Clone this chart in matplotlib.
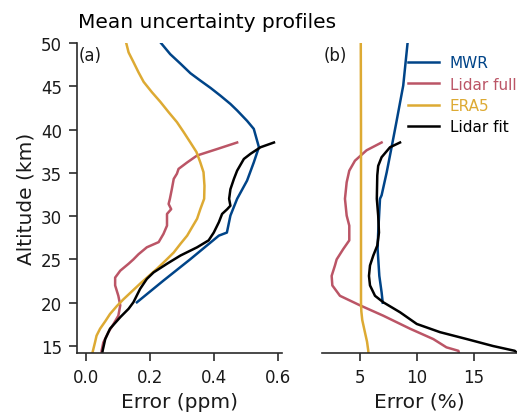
import matplotlib
matplotlib.use("Agg")
import matplotlib.pyplot as plt
import numpy as np

# colours (Tol high-contrast)
c_mwr = "#004488"
c_full = "#BB5566"
c_era = "#DDAA33"
c_fit = "black"

# --- absolute error (ppm) ---
mwr_alt = [50.08, 48.7, 47.6, 46.5, 45.65, 44.8, 43.9, 42.95, 42.2, 41.0, 40.07, 37.96, 36.2, 34.1, 32.0,
           30.06, 28.1, 27.75, 25.0, 22.5, 20.05]
mwr_ppm = [0.232, 0.263, 0.295, 0.326, 0.357, 0.389, 0.42, 0.451, 0.472, 0.503, 0.524, 0.54, 0.524, 0.503, 0.472,
           0.451, 0.44, 0.415, 0.325, 0.24, 0.159]

fit_alt = [38.5, 37.95, 37.2, 36.6, 35.25, 34.3, 33.1, 32.0, 31.2, 30.8, 30.25, 29.3, 28.1, 27.2, 26.4,
           25.45, 24.5, 23.5, 22.75, 21.6, 20.05, 19.3, 18.33, 17.0, 15.8, 14.47, 14.2]
fit_ppm = [0.587, 0.545, 0.514, 0.493, 0.472, 0.462, 0.451, 0.447, 0.451, 0.441, 0.425, 0.415, 0.399, 0.383, 0.347,
           0.295, 0.253, 0.211, 0.19, 0.169, 0.148, 0.133, 0.107, 0.075, 0.06, 0.052, 0.051]

full_alt = [38.5, 37.75, 37.0, 36.2, 35.45, 34.9, 34.3, 33.1, 32.0, 31.4, 30.8, 30.25, 28.9, 27.95, 27.0, 26.4,
            25.6, 25.0, 24.5, 23.7, 22.9, 22.0, 20.8, 19.7, 18.5, 17.55, 16.6, 15.4, 14.5, 14.2]
full_ppm = [0.472, 0.41, 0.347, 0.316, 0.289, 0.284, 0.274, 0.268, 0.262, 0.258, 0.266, 0.253, 0.253, 0.242, 0.227, 0.19,
            0.164, 0.148, 0.133, 0.107, 0.091, 0.091, 0.101, 0.107, 0.101, 0.086, 0.07, 0.054, 0.049, 0.048]

era_alt = [50.08, 48.9, 47.8, 46.6, 45.5, 44.3, 43.2, 42.0, 40.85, 39.7, 38.5, 37.4, 36.2, 35.07, 33.5, 32.0,
           30.8, 29.7, 28.7, 27.75, 26.8, 25.8, 24.85, 23.9, 23.05, 22.2, 21.3, 20.4, 19.6, 18.7, 17.85, 17.0,
           16.2, 15.4, 14.2]
era_ppm = [0.125, 0.133, 0.148, 0.164, 0.18, 0.206, 0.232, 0.258, 0.284, 0.305, 0.326, 0.345, 0.357, 0.367, 0.37, 0.369,
           0.357, 0.347, 0.331, 0.316, 0.295, 0.274, 0.248, 0.221, 0.195, 0.169, 0.143, 0.117, 0.096, 0.075, 0.06, 0.044,
           0.033, 0.028, 0.02]

# --- relative error (%) ---
mwr_pct_alt = [50.08, 45.07, 40.85, 38.1, 35.07, 32.4, 32.0, 28.1, 26.2, 23.1, 21.2, 20.0]
mwr_pct = [9.19, 8.8, 8.2, 7.8, 7.35, 6.9, 6.76, 6.6, 6.55, 6.7, 6.9, 7.0]

fit_pct_alt = [38.5, 37.95, 36.8, 35.8, 34.7, 32.0, 30.06, 28.1, 26.6, 25.45, 24.3, 23.1, 22.0, 20.8, 20.05,
               18.9, 17.55, 16.6, 15.8, 15.0, 14.45, 14.2]
fit_pct = [8.52, 7.64, 6.9, 6.6, 6.52, 6.48, 6.6, 6.67, 6.52, 6.17, 5.88, 5.79, 5.88, 6.32, 7.05,
           8.52, 9.99, 12.04, 14.4, 16.7, 18.6, 18.8]

full_pct_alt = [38.5, 37.6, 36.4, 35.25, 33.9, 32.0, 30.06, 28.9, 27.2, 26.2, 25.0, 24.3, 23.1, 22.0, 20.8,
                19.7, 18.5, 17.0, 15.8, 14.85, 14.45, 14.2]
full_pct = [6.9, 5.58, 4.56, 4.06, 3.83, 3.68, 3.83, 4.06, 4.06, 3.53, 2.95, 2.8, 2.51, 2.57, 3.24,
            5.0, 7.05, 9.4, 11.45, 12.6, 13.65, 13.7]

era_pct_alt = [50.08, 40.0, 30.0, 20.0, 19.0, 18.0, 16.5, 15.5, 14.45, 14.2]
era_pct = [5.07, 5.09, 5.09, 5.09, 5.12, 5.2, 5.45, 5.62, 5.73, 5.74]

plt.rcParams["font.family"] = "DejaVu Sans"
text_col = "#1a1a1a"
fig = plt.figure(figsize=(5.17, 4.14), dpi=100)
ax1 = fig.add_axes([0.149, 0.145, 0.397, 0.749])
ax2 = fig.add_axes([0.623, 0.145, 0.377, 0.749])

for ax in (ax1, ax2):
    for s in ("top", "right"):
        ax.spines[s].set_visible(False)
    for s in ("left", "bottom"):
        ax.spines[s].set_color("#2b2b2b")
        ax.spines[s].set_linewidth(1.2)
    ax.tick_params(labelsize=12, colors="#2b2b2b", labelcolor=text_col, width=1.2, length=6, pad=5)
    ax.set_ylim(14.2, 50)

lw = 1.8
ax1.plot(mwr_ppm, mwr_alt, color=c_mwr, lw=lw)
ax1.plot(full_ppm, full_alt, color=c_full, lw=lw)
ax1.plot(era_ppm, era_alt, color=c_era, lw=lw)
ax1.plot(fit_ppm, fit_alt, color=c_fit, lw=lw)
ax1.set_xlim(-0.028, 0.613)
ax1.set_xticks([0.0, 0.2, 0.4, 0.6])
ax1.set_yticks([15, 20, 25, 30, 35, 40, 45, 50])
ax1.set_xlabel("Error (ppm)", fontsize=14.5, color=text_col)
ax1.set_ylabel("Altitude (km)", fontsize=14.5, color=text_col)
ax1.text(0.01, 0.99, "(a)", transform=ax1.transAxes, va="top", ha="left", fontsize=12, color=text_col)

ax2.plot(mwr_pct, mwr_pct_alt, color=c_mwr, lw=lw, label="MWR")
ax2.plot(full_pct, full_pct_alt, color=c_full, lw=lw, label="Lidar full")
ax2.plot(era_pct, era_pct_alt, color=c_era, lw=lw, label="ERA5")
ax2.plot(fit_pct, fit_pct_alt, color=c_fit, lw=lw, label="Lidar fit")
ax2.set_xlim(1.67, 18.8)
ax2.set_xticks([5, 10, 15])
ax2.spines["left"].set_visible(False)
ax2.set_yticks([])
ax2.set_xlabel("Error (%)", fontsize=14.5, color=text_col)
ax2.text(0.01, 0.99, "(b)", transform=ax2.transAxes, va="top", ha="left", fontsize=12, color=text_col)

leg = ax2.legend(loc="upper right", bbox_to_anchor=(1.045, 0.99), frameon=False, fontsize=11,
                 handlelength=2.0, handletextpad=0.75, labelspacing=0.42, borderaxespad=0.2)
for line, txt in zip(leg.get_lines(), leg.get_texts()):
    txt.set_color(line.get_color())

fig.text(0.151, 0.945, "Mean uncertainty profiles", fontsize=14.5, ha="left", va="center", color="black")

fig.savefig("out.png", dpi=100)
